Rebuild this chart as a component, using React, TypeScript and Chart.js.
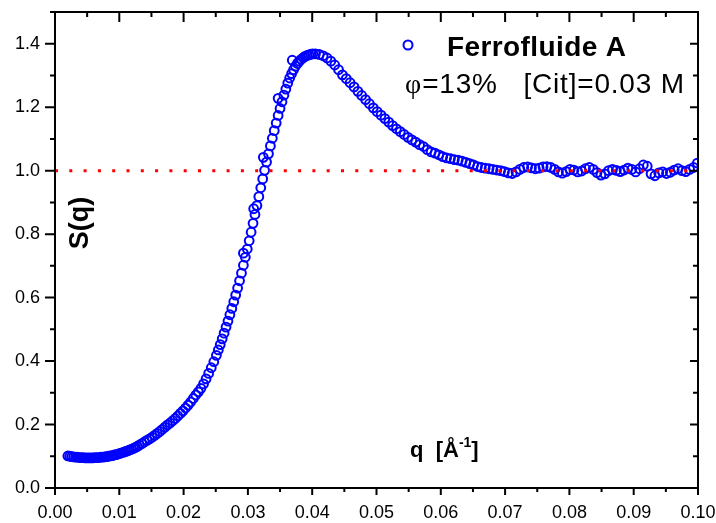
import React, { useEffect, useRef } from 'react';
import { Chart, registerables } from 'chart.js';

Chart.register(...registerables);

// ---- data ----
const qLow = [0.0020,0.0023,0.0026,0.0029,0.0032,0.0035,0.0038,0.0041,0.0044,0.0047,0.0050,0.0053,0.0056,0.0059,0.0062,0.0065,0.0068,0.0071,0.0074,0.0077,0.0080,0.0083,0.0086,0.0089,0.0092,0.0095,0.0098,0.0101,0.0104,0.0107,0.0110,0.0113,0.0116,0.0119,0.0122,0.0125,0.0128];
const sLow = [0.101,0.100,0.099,0.098,0.097,0.097,0.096,0.096,0.096,0.095,0.095,0.095,0.095,0.095,0.096,0.096,0.096,0.097,0.097,0.098,0.099,0.100,0.101,0.102,0.104,0.105,0.107,0.109,0.111,0.113,0.115,0.117,0.120,0.122,0.125,0.128,0.131];

const qRise = [0.0131,0.0135,0.0139,0.0143,0.0147,0.0151,0.0155,0.0159,0.0163,0.0167,0.0171,0.0175,0.0179,0.0183,0.0187,0.0191,0.0195,0.0199,0.0203,0.0207,0.0211,0.0215,0.0219,0.0223,0.0227,0.0231,0.0235,0.0239,0.0243,0.0247,0.0251];
const sRise = [0.135,0.140,0.145,0.150,0.155,0.160,0.166,0.172,0.178,0.185,0.192,0.199,0.205,0.212,0.219,0.227,0.235,0.243,0.252,0.261,0.271,0.282,0.293,0.303,0.314,0.328,0.344,0.361,0.379,0.398,0.418];

const qSteep = [0.0254,0.0257,0.0260,0.0263,0.0266,0.0269,0.0272,0.0275,0.0278,0.0281,0.0284,0.0287,0.0290,0.0293,0.0296,0.0299,0.0302,0.0305,0.0308,0.0311,0.0314,0.0317,0.0320,0.0323,0.0326,0.0329,0.0332,0.0335,0.0338,0.0341,0.0344,0.0347,0.0350,0.0353,0.0356,0.0359,0.0362,0.0365,0.0368,0.0371,0.0374,0.0377,0.0380,0.0383,0.0386,0.0389,0.0392,0.0395,0.0398,0.0401];
const sSteep = [0.435,0.452,0.470,0.488,0.507,0.526,0.546,0.566,0.587,0.608,0.630,0.653,0.677,0.702,0.727,0.753,0.779,0.806,0.834,0.862,0.890,0.918,0.946,0.974,1.001,1.027,1.053,1.078,1.102,1.126,1.150,1.174,1.196,1.217,1.238,1.257,1.276,1.292,1.306,1.318,1.329,1.338,1.345,1.351,1.356,1.360,1.363,1.365,1.367,1.368];

const qExtra = [0.0293,0.0309,0.0324,0.0347,0.0369];
const sExtra = [0.740,0.880,1.042,1.228,1.348];

const qTail = [0.0405,0.0411,0.0417,0.0423,0.0429,0.0435,0.0441,0.0447,0.0453,0.0459,
  0.0465,0.0471,0.0477,0.0483,0.0489,0.0495,0.0501,0.0507,0.0513,0.0519,
  0.0525,0.0531,0.0537,0.0543,0.0549,0.0555,0.0561,0.0567,0.0573,0.0579,
  0.0585,0.0591,0.0597,0.0603,0.0609,0.0615,0.0621,0.0627,0.0633,0.0639,
  0.0645,0.0651,0.0657,0.0663,0.0669,0.0675,0.0681,0.0687,0.0693,0.0699,
  0.0705,0.0711,0.0717,0.0723,0.0729,0.0735,0.0741,0.0747,0.0753,0.0759,
  0.0765,0.0771,0.0777,0.0783,0.0789,0.0795,0.0801,0.0807,0.0813,0.0819,
  0.0825,0.0831,0.0837,0.0843,0.0849,0.0855,0.0861,0.0867,0.0873,0.0879,
  0.0885,0.0891,0.0897,0.0903,0.0909,0.0915,0.0921,0.0927,0.0933,0.0939,
  0.0945,0.0951,0.0957,0.0963,0.0969,0.0975,0.0981,0.0987,0.0993,0.0999];
const sTail = [1.368,1.366,1.362,1.355,1.345,1.333,1.318,1.302,1.290,1.277,
  1.264,1.250,1.237,1.224,1.211,1.198,1.186,1.175,1.164,1.153,
  1.142,1.132,1.123,1.114,1.105,1.097,1.090,1.082,1.076,1.066,
  1.059,1.055,1.050,1.044,1.040,1.038,1.035,1.033,1.030,1.026,
  1.022,1.018,1.013,1.010,1.008,1.006,1.004,1.002,1.000,0.997,
  0.993,0.991,0.996,1.004,1.010,1.012,1.009,1.006,1.008,1.012,
  1.013,1.010,1.004,0.996,0.992,0.997,1.004,1.002,0.996,0.999,
  1.006,1.010,1.004,0.994,0.986,0.990,1.000,1.004,1.001,0.997,
  1.002,1.008,1.004,0.996,1.006,1.018,1.014,0.990,0.984,0.993,
  0.996,0.991,0.995,1.002,1.006,1.000,0.997,1.004,1.010,1.024];

const refLine = [0.0, 0.1];
const refLevel = 1.0;

const xMin = 0;
const xMax = 0.1;
const xStep = 0.01;
const yMin = 0;
const yMax = 1.5;
const yStep = 0.2;

const seriesLabel = 'Ferrofluide A';
const phiSymbol = 'φ';
const conditionText = '=13%   [Cit]=0.03 M';
const yTitle = 'S(q)';
const xTitleMain = 'q  [Å';
const xTitleSup = '-1';
const xTitleEnd = ']';

const FONT = '"Liberation Sans", Arial, sans-serif';
const SERIF = '"Liberation Serif", "Times New Roman", serif';
const BLUE = '#0000ff';

function toPoints(qs: number[], ss: number[]) {
  return qs.map((q, i) => ({ x: q, y: ss[i] }));
}

const decorPlugin = {
  id: 'decor',
  afterDraw(chart: any) {
    const { ctx, chartArea: a, scales } = chart;
    const xs = scales.x;
    const ys = scales.y;
    ctx.save();
    ctx.strokeStyle = '#000';
    ctx.lineWidth = 2;
    ctx.strokeRect(a.left, a.top, a.right - a.left, a.bottom - a.top);

    // x ticks (major every 0.01, minor every 0.005)
    for (let i = 0; i <= 20; i++) {
      const v = (i * xStep) / 2;
      const px = xs.getPixelForValue(v);
      const major = i % 2 === 0;
      ctx.beginPath();
      ctx.moveTo(px, a.bottom);
      ctx.lineTo(px, a.bottom + (major ? 7 : 4));
      ctx.moveTo(px, a.top);
      ctx.lineTo(px, a.top + (major ? 10 : 5));
      ctx.stroke();
    }
    // y ticks (major every 0.2, minor every 0.1)
    for (let i = 0; i <= 15; i++) {
      const v = i * 0.1;
      const py = ys.getPixelForValue(v);
      const major = i % 2 === 0;
      ctx.beginPath();
      ctx.moveTo(a.left, py);
      ctx.lineTo(a.left - (major ? 10 : 5), py);
      ctx.moveTo(a.right, py);
      ctx.lineTo(a.right - (major ? 8 : 5), py);
      ctx.stroke();
    }

    // legend
    ctx.strokeStyle = BLUE;
    ctx.lineWidth = 2;
    ctx.beginPath();
    ctx.arc(408, 45, 4.5, 0, Math.PI * 2);
    ctx.stroke();
    ctx.fillStyle = '#000';
    ctx.textAlign = 'left';
    ctx.textBaseline = 'alphabetic';
    ctx.font = `bold 28px ${FONT}`;
    (ctx as any).letterSpacing = '0.4px';
    ctx.fillText(seriesLabel, 447, 56);
    (ctx as any).letterSpacing = '0px';
    ctx.font = `28px ${SERIF}`;
    ctx.fillText(phiSymbol, 405, 93);
    const pw = ctx.measureText(phiSymbol).width;
    ctx.font = `28px ${FONT}`;
    (ctx as any).letterSpacing = '0.8px';
    ctx.fillText(conditionText, 405 + pw + 1, 93);
    (ctx as any).letterSpacing = '0px';

    // x title inside the plot
    ctx.font = `bold 22px ${FONT}`;
    const xt = 410;
    const base = 457;
    ctx.fillText(xTitleMain, xt, base);
    let w = ctx.measureText(xTitleMain).width;
    ctx.font = `bold 14px ${FONT}`;
    ctx.fillText(xTitleSup, xt + w, base - 10);
    w += ctx.measureText(xTitleSup).width;
    ctx.font = `bold 22px ${FONT}`;
    ctx.fillText(xTitleEnd, xt + w, base);

    // y title inside the plot
    ctx.save();
    ctx.translate(81, 223);
    ctx.rotate(-Math.PI / 2);
    ctx.font = `bold 27px ${FONT}`;
    ctx.textAlign = 'center';
    ctx.textBaseline = 'middle';
    ctx.fillText(yTitle, 0, 0);
    ctx.restore();

    ctx.restore();
  },
};

export default function App() {
  const canvasRef = useRef<HTMLCanvasElement | null>(null);

  useEffect(() => {
    const canvas = canvasRef.current;
    if (!canvas) return;
    const points = [
      ...toPoints(qLow, sLow),
      ...toPoints(qRise, sRise),
      ...toPoints(qSteep, sSteep),
      ...toPoints(qExtra, sExtra),
      ...toPoints(qTail, sTail),
    ];
    const chart = new Chart(canvas, {
      type: 'scatter',
      data: {
        datasets: [
          {
            label: 'S(q) = 1',
            data: refLine.map((q) => ({ x: q, y: refLevel })),
            showLine: true,
            borderColor: '#ff0000',
            borderWidth: 3,
            borderDash: [3, 11.3],
            pointRadius: 0,
            order: 0,
          } as any,
          {
            label: seriesLabel,
            data: points,
            showLine: false,
            pointStyle: 'circle',
            pointRadius: 4.4,
            pointBorderWidth: 2,
            borderColor: BLUE,
            pointBorderColor: BLUE,
            backgroundColor: 'rgba(0,0,0,0)',
            pointBackgroundColor: 'rgba(0,0,0,0)',
            order: 1,
          } as any,
        ],
      },
      options: {
        responsive: false,
        animation: false,
        devicePixelRatio: 1,
        layout: { padding: { left: 0, top: 12, right: 18, bottom: 0 } },
        plugins: {
          legend: { display: false },
          tooltip: { enabled: false },
        },
        scales: {
          x: {
            type: 'linear',
            min: xMin,
            max: xMax,
            afterFit: (s: any) => {
              s.height = 35;
              s.paddingLeft = 0;
              s.paddingRight = 0;
            },
            grid: { display: false, drawTicks: false },
            border: { display: false },
            ticks: {
              stepSize: xStep,
              padding: 14,
              color: '#000',
              autoSkip: false,
              maxRotation: 0,
              font: { family: FONT, size: 18 },
              callback: (v: any) => Number(v).toFixed(2),
            },
          },
          y: {
            type: 'linear',
            min: yMin,
            max: yMax,
            afterFit: (s: any) => {
              s.width = 55;
              s.paddingTop = 0;
              s.paddingBottom = 0;
            },
            grid: { display: false, drawTicks: false },
            border: { display: false },
            ticks: {
              stepSize: yStep,
              includeBounds: false,
              padding: 15,
              color: '#000',
              autoSkip: false,
              font: { family: FONT, size: 18 },
              callback: (v: any) => (Math.abs(Number(v) - yMax) < 1e-9 ? '' : Number(v).toFixed(1)),
            },
          },
        },
      } as any,
      plugins: [decorPlugin],
    });
    return () => chart.destroy();
  }, []);

  return (
    <div style={{ position: 'absolute', left: 0, top: 0, width: 716, height: 523, background: '#fff' }}>
      <canvas ref={canvasRef} width={716} height={523} style={{ display: 'block' }} />
    </div>
  );
}
